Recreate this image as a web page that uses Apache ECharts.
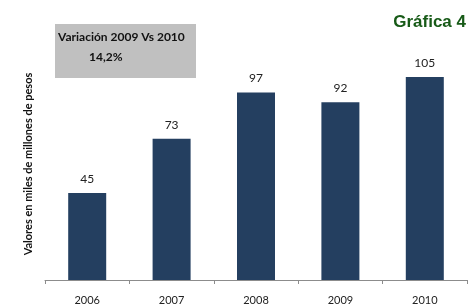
<!DOCTYPE html>
<html>
<head>
<meta charset="utf-8">
<script src="https://cdn.jsdelivr.net/npm/echarts@6/dist/echarts.min.js"></script>
<style>
  html, body { margin: 0; padding: 0; background: #fff; }
  #chart { width: 474px; height: 306px; }
</style>
</head>
<body>
<div id="chart"></div>
<script>
// data
const years = ['2006', '2007', '2008', '2009', '2010'];
const valores = [45, 73, 97, 92, 105];
const boxTitle = 'Variación 2009 Vs 2010';
const boxValue = '14,2%';

const chart = echarts.init(document.getElementById('chart'));

chart.setOption({
  animation: false,
  title: {
    text: 'Gráfica 4',
    right: 3,
    top: 9,
    textStyle: { fontFamily: 'Liberation Sans', fontSize: 17, fontWeight: 'bold', color: '#175a17' }
  },
  grid: { left: 45, right: 7, top: 48, bottom: 26 },
  xAxis: {
    type: 'category',
    data: years,
    axisLine: { lineStyle: { color: '#8c8c8c', width: 1 } },
    axisTick: { show: true, length: 4, lineStyle: { color: '#8c8c8c' } },
    axisLabel: { color: '#222', fontFamily: 'Lato', fontSize: 11, margin: 15 }
  },
  yAxis: {
    type: 'value',
    min: 0,
    max: 120,
    name: 'Valores en miles de millones de pesos',
    nameLocation: 'middle',
    nameGap: 11,
    nameRotate: 90,
    nameTextStyle: { fontFamily: 'Lato', fontSize: 11, fontWeight: 'bold', color: '#111' },
    axisLine: { show: false },
    axisTick: { show: false },
    axisLabel: { show: false },
    splitLine: { show: false }
  },
  series: [{
    type: 'bar',
    data: valores,
    barWidth: 38,
    itemStyle: { color: '#243f60' },
    label: {
      show: true,
      position: 'top',
      distance: 8,
      color: '#222',
      fontFamily: 'Lato',
      fontSize: 12
    }
  }],
  graphic: [{
    type: 'group',
    left: 55,
    top: 24,
    children: [
      { type: 'rect', shape: { x: 0, y: 0, width: 141, height: 54 }, style: { fill: '#c0c0c0' } },
      { type: 'text', x: 3, y: 7, style: { text: boxTitle, fontFamily: 'Lato', fontSize: 12, fontWeight: 'bold', fill: '#111' } },
      { type: 'text', x: 34, y: 27, style: { text: boxValue, fontFamily: 'Lato', fontSize: 12, fontWeight: 'bold', fill: '#111' } }
    ]
  }]
});
</script>
</body>
</html>
